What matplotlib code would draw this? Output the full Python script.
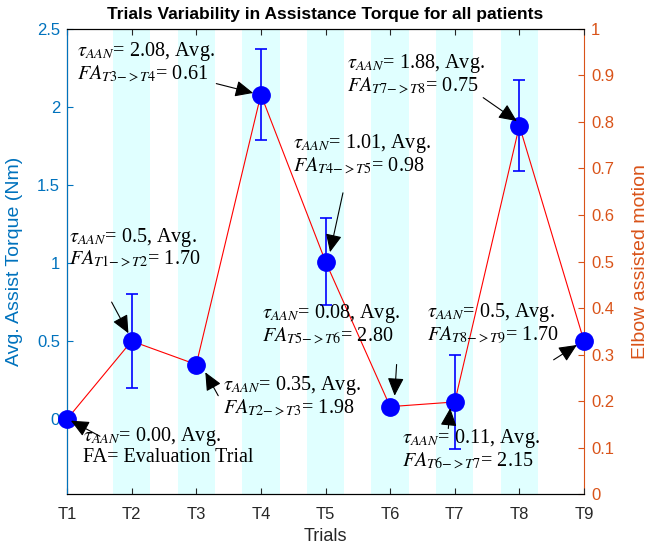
import matplotlib.pyplot as plt
import numpy as np

plt.rcParams['font.family'] = ['Liberation Sans', 'DejaVu Sans']
plt.rcParams['mathtext.fontset'] = 'stix'

# data
trials = ['T1', 'T2', 'T3', 'T4', 'T5', 'T6', 'T7', 'T8', 'T9']
torque = [0.0, 0.5, 0.35, 2.08, 1.01, 0.08, 0.11, 1.88, 0.5]
torque_err = [0.0, 0.30, 0.0, 0.29, 0.28, 0.0, 0.30, 0.29, 0.0]
band_trials = [2, 3, 4, 5, 6, 7, 8]
elbow_motion = [1, 1, 1, 1, 1, 1, 1]

notes = [
    r"$\tau_{AAN}$= 0.00, Avg." "\nFA= Evaluation Trial",
    r"$\tau_{AAN}$= 0.5, Avg." "\n" r"$FA_{T1{-}{>}T2}$= 1.70",
    r"$\tau_{AAN}$= 0.35, Avg." "\n" r"$FA_{T2{-}{>}T3}$= 1.98",
    r"$\tau_{AAN}$= 2.08, Avg." "\n" r"$FA_{T3{-}{>}T4}$= 0.61",
    r"$\tau_{AAN}$= 1.01, Avg." "\n" r"$FA_{T4{-}{>}T5}$= 0.98",
    r"$\tau_{AAN}$= 0.08, Avg." "\n" r"$FA_{T5{-}{>}T6}$= 2.80",
    r"$\tau_{AAN}$= 0.11, Avg." "\n" r"$FA_{T6{-}{>}T7}$= 2.15",
    r"$\tau_{AAN}$= 1.88, Avg." "\n" r"$FA_{T7{-}{>}T8}$= 0.75",
    r"$\tau_{AAN}$= 0.5, Avg." "\n" r"$FA_{T8{-}{>}T9}$= 1.70",
]
# layout: text top-left, arrow tail, arrow head
text_pos = [(1.25, -0.04), (1.03, 1.24), (3.41, 0.29), (1.15, 2.43), (4.49, 1.84),
            (4.02, 0.75), (6.18, -0.05), (5.33, 2.35), (6.57, 0.755)]
arrow_tail = [(1.51, -0.11), (1.69, 0.75), (3.34, 0.15), (3.31, 2.15), (5.27, 1.45),
              (6.10, 0.35), (6.90, -0.06), (7.44, 2.06), (8.53, 0.38)]
arrow_head = [(1.06, -0.01), (1.95, 0.55), (3.14, 0.30), (3.88, 2.09), (5.07, 1.07),
              (6.07, 0.15), (6.93, 0.07), (7.96, 1.91), (8.89, 0.475)]

blue_ax = '#0072BD'
orange_ax = '#D95319'

fig = plt.figure(figsize=(6.52, 5.51), dpi=100)
ax = fig.add_axes([0.1028, 0.1034, 0.7929, 0.844])
ax2 = ax.twinx()

# background bands on the right axis
ax2.bar(band_trials, elbow_motion, width=0.58, color='#E0FFFF', edgecolor='none')
ax2.set_ylim(0, 1)
ax2.set_yticks(np.arange(0, 1.01, 0.1))
ax2.set_yticklabels(['0', '0.1', '0.2', '0.3', '0.4', '0.5', '0.6', '0.7', '0.8', '0.9', '1'])
ax2.set_ylabel('Elbow assisted motion', color=orange_ax, fontsize=14)
ax2.yaxis.set_label_coords(1.093, 0.5)
ax2.tick_params(axis='y', colors=orange_ax, direction='in', length=4, labelsize=12, pad=5)
ax2.spines['right'].set_color(orange_ax)

ax.set_zorder(ax2.get_zorder() + 1)
ax.patch.set_visible(False)

x = np.arange(1, len(trials) + 1)
ax.errorbar(x, torque, yerr=torque_err, fmt='none', ecolor='blue', elinewidth=1.2,
            capsize=4, capthick=1.2, zorder=2)
ax.plot(x, torque, color='red', linewidth=0.8, zorder=3)
ax.plot(x, torque, 'o', color='blue', markersize=12.5, zorder=4, clip_on=False)

for txt, tp, tl, hd in zip(notes, text_pos, arrow_tail, arrow_head):
    ax.text(tp[0], tp[1], txt, ha='left', va='top', fontsize=14.5,
            family='Liberation Serif', linespacing=1.0, zorder=5)
    ax.annotate('', xy=hd, xytext=tl,
                arrowprops=dict(arrowstyle='-|>,head_length=1.1,head_width=0.5',
                                color='black', lw=0.8, mutation_scale=10,
                                shrinkA=0, shrinkB=0), zorder=6)

ax.set_xlim(1, 9)
ax.set_ylim(-0.48, 2.5)
ax.set_xticks(x)
ax.set_xticklabels(trials)
ax.set_yticks([0, 0.5, 1, 1.5, 2, 2.5])
ax.set_yticklabels(['0', '0.5', '1', '1.5', '2', '2.5'])
ax.tick_params(axis='x', direction='in', top=True, length=4, labelsize=12,
               colors='#262626', pad=9)
ax.tick_params(axis='y', direction='in', length=4, labelsize=12, colors=blue_ax, pad=5)
ax.spines['left'].set_color(blue_ax)
ax.spines['right'].set_visible(False)
ax.set_xlabel('Trials', fontsize=13, color='#262626', labelpad=5)
ax.set_ylabel('Avg. Assist Torque (Nm)', fontsize=14, color=blue_ax)
ax.yaxis.set_label_coords(-0.086, 0.5)
ax.set_title('Trials Variability in Assistance Torque for all patients',
             fontsize=12.5, fontweight='bold', pad=7)

fig.savefig('out.png', dpi=100)
